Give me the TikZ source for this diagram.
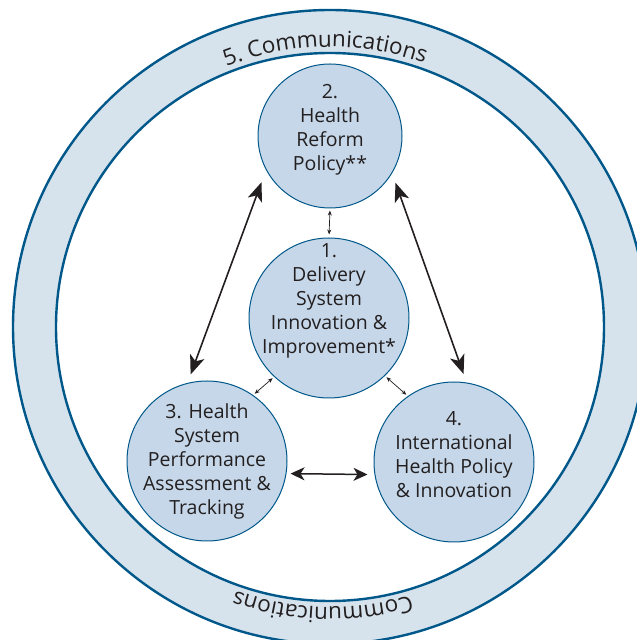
\documentclass[tikz,border=0pt]{standalone}
\usepackage{fontspec}
\setmainfont{Open Sans}
\usetikzlibrary{arrows.meta,decorations.text}
\definecolor{ringblue}{RGB}{0, 88, 138}
\definecolor{ringfill}{RGB}{214, 227, 237}
\definecolor{discfill}{RGB}{197, 215, 232}
\definecolor{inkblack}{RGB}{35, 31, 32}
\newcommand{\ringfont}{\fontsize{22.5}{22.5}\selectfont}

\begin{document}
\begin{tikzpicture}[x=1pt, y=1pt,
        disc/.style      = {circle, draw=ringblue, fill=discfill, line width=1pt, minimum size=160pt, inner sep=0pt},
        disctext/.style  = {align=center, text=inkblack, font=\fontsize{19.5}{24}\selectfont},
        bigarrow/.style  = {draw=inkblack, line width=1.6pt, {Stealth[length=19pt, width=15pt, inset=5pt]}-{Stealth[length=19pt, width=15pt, inset=5pt]}},
        midarrow/.style  = {draw=inkblack, line width=1.5pt, {Stealth[length=14pt, width=13pt, inset=4pt]}-{Stealth[length=14pt, width=13pt, inset=4pt]}},
        smallarrow/.style= {draw=inkblack, line width=0.7pt, {Stealth[length=5pt, width=4pt]}-{Stealth[length=5pt, width=4pt]}}]
            \useasboundingbox (0,0) rectangle (637,640);
            \coordinate (hub) at (330,313);
            \fill[ringfill, even odd rule] (hub) circle[radius=317pt] (hub) circle[radius=274pt];
            \draw[ringblue, line width=2.4pt] (hub) circle[radius=317pt] (hub) circle[radius=274pt];
            \path[decorate, decoration={text along path, text align=center, text format delimiters={|}{|},
                 text={|\ringfont\color{inkblack}|5. Communications}}] (hub) ++(152:280pt) arc[start angle=152, end angle=30, radius=280pt];
            \path[decorate, decoration={text along path, text align=center, text format delimiters={|}{|},
                 text={|\ringfont\color{inkblack}|Communications}}] (hub) ++(-31:280pt) arc[start angle=-31, end angle=-152, radius=280pt];

            \node[disc, minimum size=144pt, label={[disctext, yshift=6pt]center:{2.\\Health\\Reform\\Policy**}}]                         (reform)   at (330,504) {};
            \node[disc, label={[disctext, yshift=17pt]center:{1.\\Delivery\\System\\Innovation \&\\Improvement*}}]                     (delivery) at (329,322) {};
            \node[disc, label={[disctext]center:{3. Health\\System\\Performance\\Assessment \&\\Tracking}}]                           (tracking) at (207,179) {};
            \node[disc, label={[disctext, yshift=7pt]center:{4.\\International\\Health Policy\\\& Innovation}}]                        (intl)     at (454,178) {};

            \draw[bigarrow, shorten <=13pt, shorten >=9pt]  (reform.208)   -- (tracking.104);
            \draw[bigarrow, shorten <=10pt, shorten >=9pt]  (reform.329)   -- (intl.81);
            \draw[midarrow, shorten <=4pt,  shorten >=7pt]  (tracking.-9)  -- (intl.189);
            \draw[smallarrow, shorten <=2pt, shorten >=3pt] (reform.south) -- (delivery.north);
            \draw[smallarrow, shorten <=2pt, shorten >=2pt] (delivery.227) -- (tracking.55);
            \draw[smallarrow, shorten <=2pt, shorten >=2pt] (delivery.314) -- (intl.125);
\end{tikzpicture}
\end{document}
